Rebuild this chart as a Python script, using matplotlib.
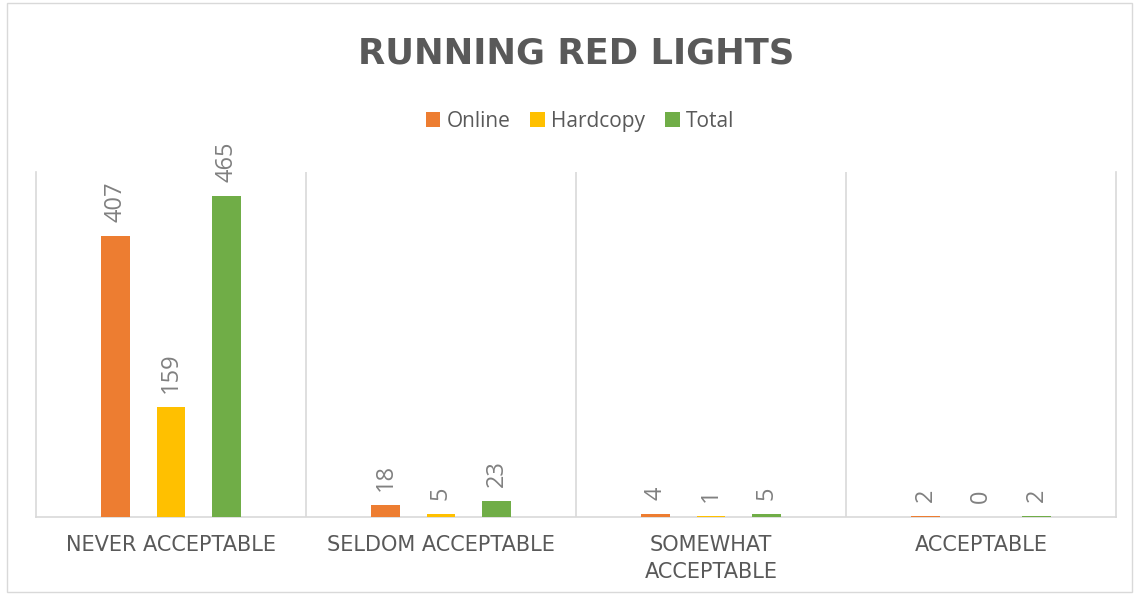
import matplotlib
matplotlib.use("Agg")
import matplotlib.pyplot as plt
import numpy as np
from matplotlib.patches import Rectangle

categories = ["NEVER ACCEPTABLE", "SELDOM ACCEPTABLE", "SOMEWHAT\nACCEPTABLE", "ACCEPTABLE"]
series_names = ["Online", "Hardcopy", "Total"]
online = [407, 18, 4, 2]
hardcopy = [159, 5, 1, 0]
total = [465, 23, 5, 2]
colors = ["#ED7D31", "#FFC000", "#70AD47"]

W, H = 1137, 595
fig = plt.figure(figsize=(W / 100, H / 100), dpi=100)
fig.patch.set_facecolor("white")

# chart border
fig.add_artist(Rectangle((7 / W, 3 / H), (1132 - 7) / W, (592 - 3) / H, transform=fig.transFigure,
                         fill=False, edgecolor="#D9D9D9", linewidth=1))

ax = fig.add_axes([36 / W, (H - 517) / H, (1116 - 36) / W, (517 - 172) / H])
x = np.arange(len(categories))
bw = 0.107
step = 0.2056
data = [online, hardcopy, total]
for i, (vals, c, name) in enumerate(zip(data, colors, series_names)):
    pos = x + (i - 1) * step
    ax.bar(pos, vals, width=bw, color=c, label=name, zorder=3)
    for p, v in zip(pos, vals):
        ax.annotate(str(v), (p, v), xytext=(0, 10), textcoords="offset points",
                    rotation=90, ha="center", va="bottom",
                    fontsize=17, color="#808080", family="Open Sans")

ax.set_xlim(-0.5, len(categories) - 0.5)
ax.set_ylim(0, 500)
ax.set_yticks([])
ax.set_xticks(x)
ax.set_xticklabels(categories, fontsize=15, color="#595959", family="DejaVu Sans",
                   linespacing=1.45)
ax.tick_params(axis="x", length=0, pad=13)
for b in np.arange(-0.5, len(categories), 1.0)[1:-1]:
    ax.axvline(b, color="#D9D9D9", linewidth=1.2, zorder=1)
for s in ["left", "right", "bottom"]:
    ax.spines[s].set_color("#D9D9D9")
    ax.spines[s].set_linewidth(1.2)
ax.spines["top"].set_visible(False)

fig.text(576 / W, (H - 53) / H, "RUNNING RED LIGHTS", ha="center", va="center",
         fontsize=25.5, fontweight="bold", color="#595959", family="DejaVu Sans")

leg = fig.legend(loc="center", bbox_to_anchor=(580 / W, (H - 121) / H), ncol=3,
                 frameon=False, prop={"family": "Open Sans", "size": 15},
                 handlelength=0.7, handleheight=0.7, handletextpad=0.3, columnspacing=0.95)
for t in leg.get_texts():
    t.set_color("#595959")

fig.savefig("out.png", dpi=100)
